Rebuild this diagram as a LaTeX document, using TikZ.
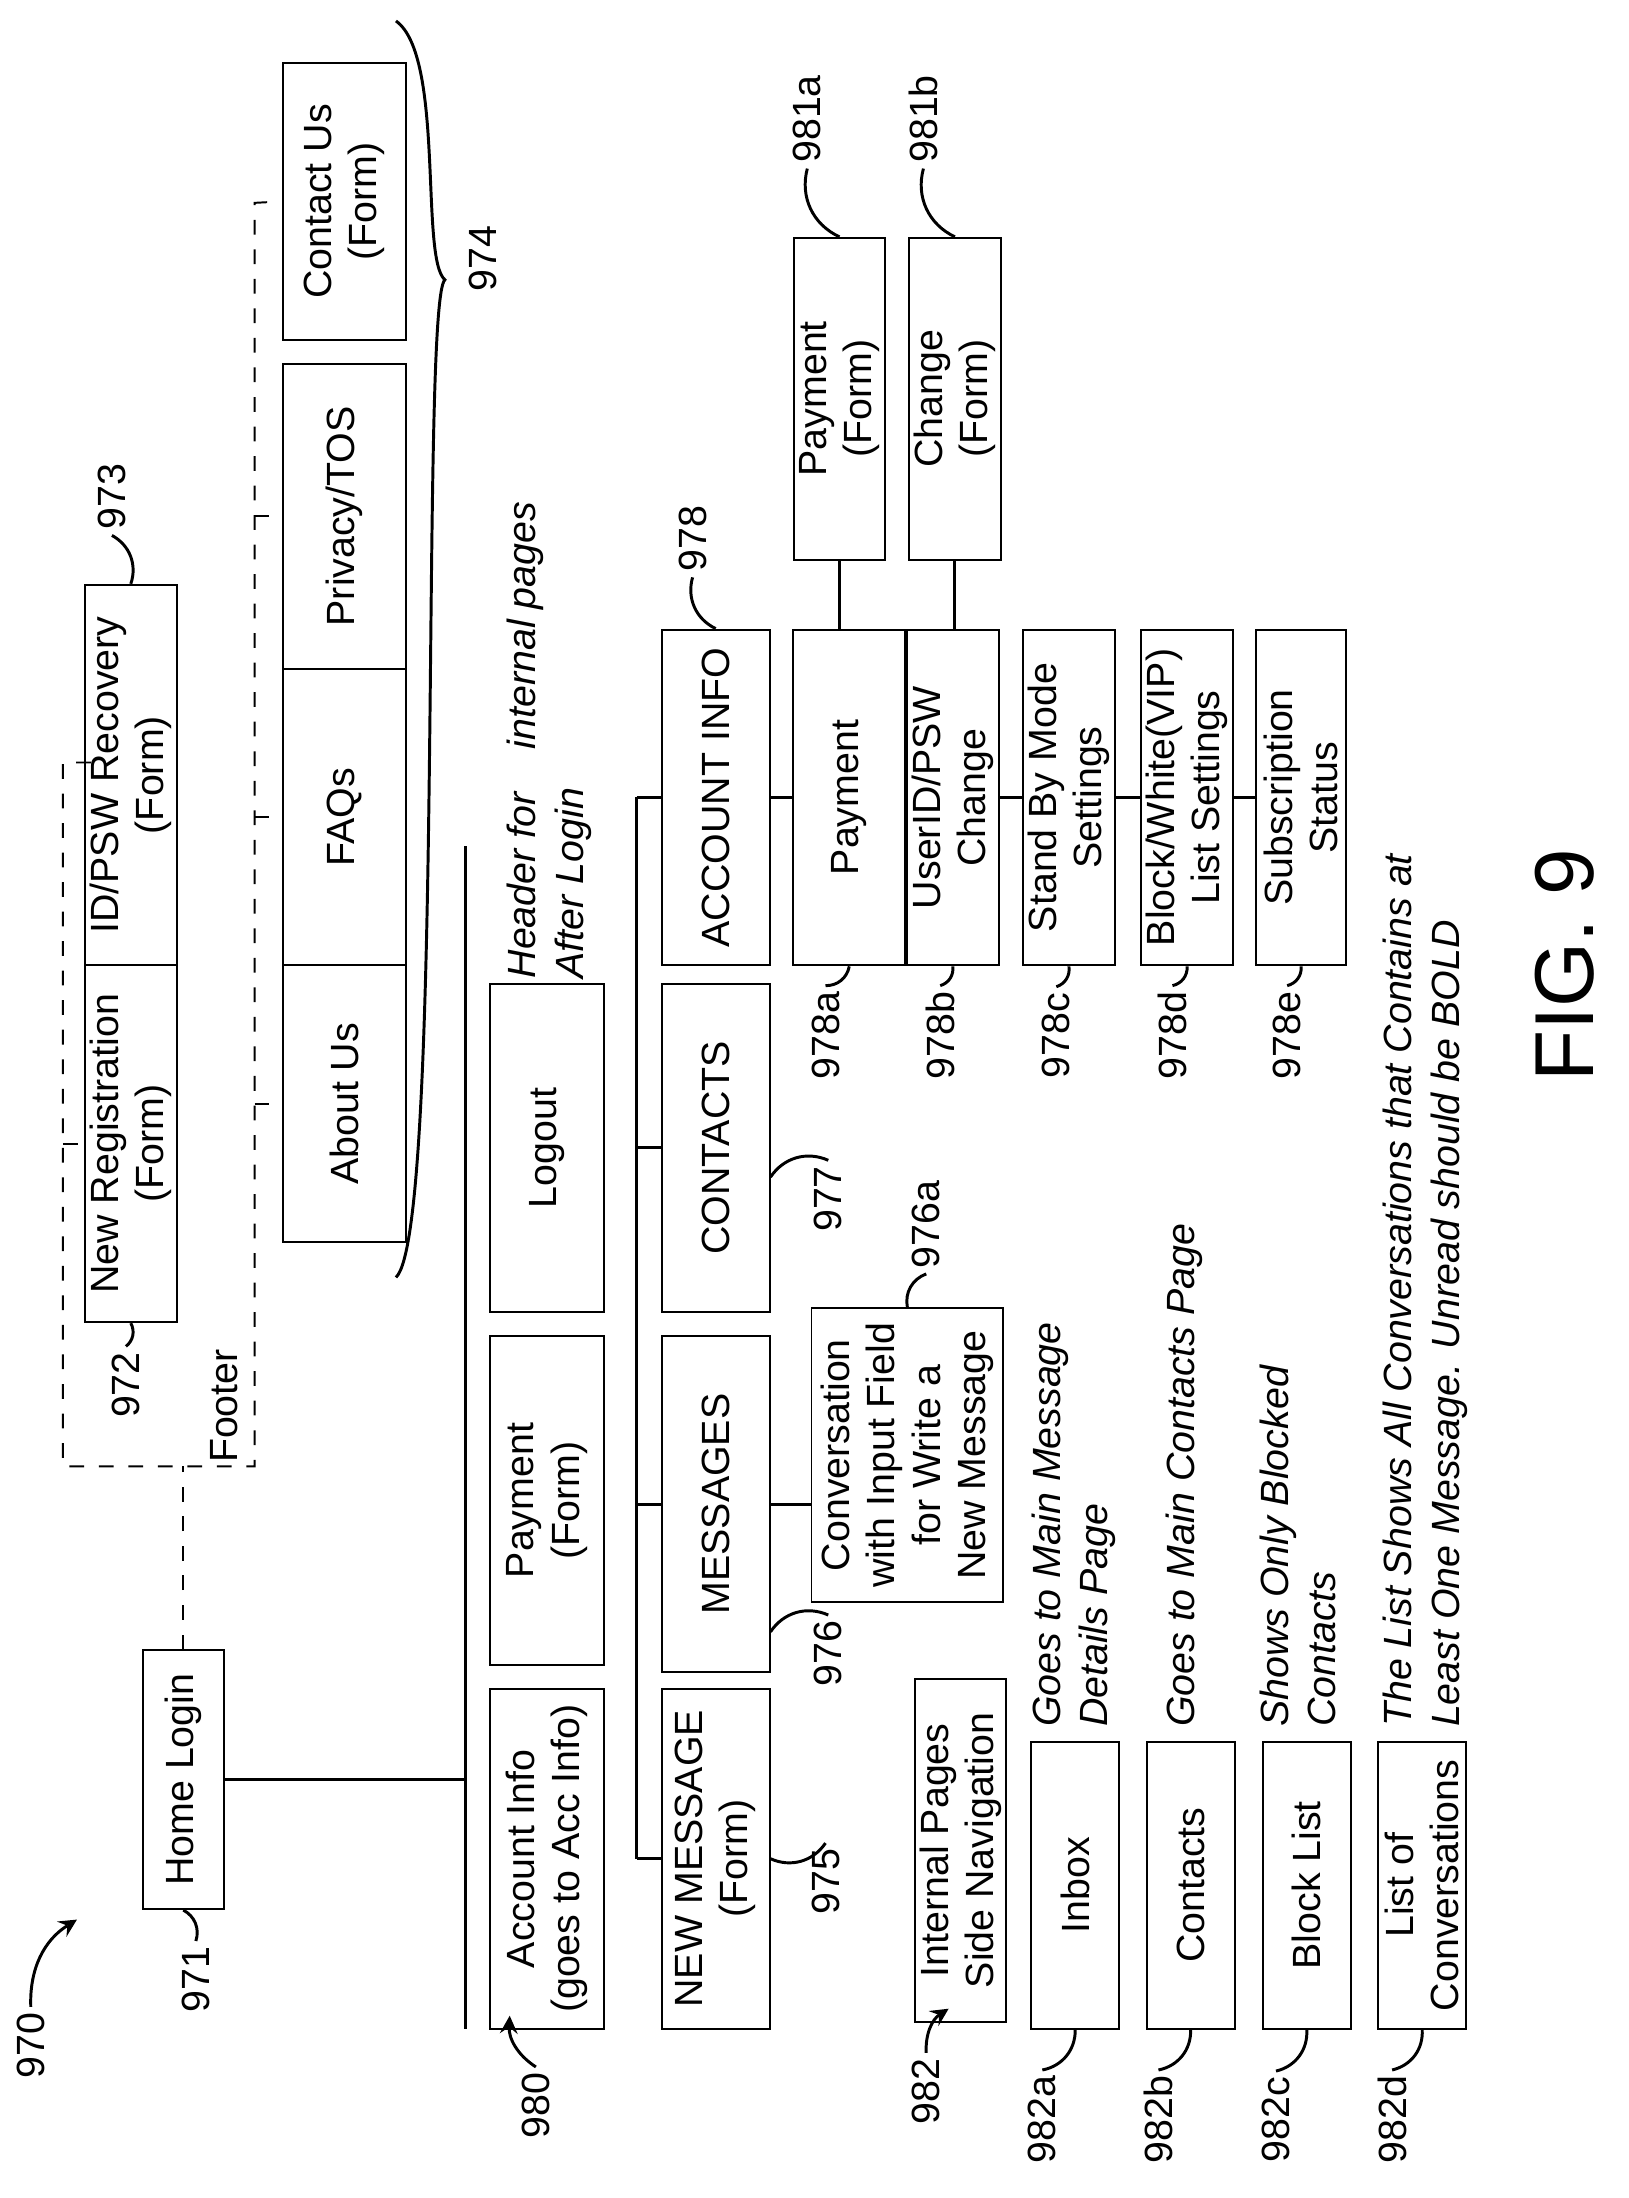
\documentclass[tikz,border=0pt]{standalone}
\usepackage{fontspec}
\setmainfont{Liberation Sans}
\usetikzlibrary{positioning}

\begin{document}
\begin{tikzpicture}[x=0.01cm, y=-0.01cm, >=stealth,
  every node/.style={font=\fontsize{8}{9.2}\selectfont},
  box/.style={draw, rotate=90, align=center, inner sep=1pt},
  sz/.style 2 args={minimum width=#1*0.01cm, minimum height=#2*0.01cm},
  lab/.style={rotate=90, inner sep=1pt},
  note/.style={rotate=90, align=left, anchor=north west, inner sep=0pt, font=\fontsize{8}{9.6}\selectfont\itshape},
  lead/.style={draw, semithick},
  thick line/.style={semithick}]

\useasboundingbox (0,0) rectangle (1164,1571);

% Home and footer pages
\node [box, sz={185}{58}] (home) at (131,1272) {Home Login};
\node [box, sz={255}{57}] (newreg) at (93.5,817.5) {New Registration\\(Form)};
\node [box, sz={272}{57}] (idrec) at (93.5,554) {ID/PSW Recovery\\(Form)};
\node [box, sz={198}{88}] (about) at (246,789) {About Us};
\node [box, sz={212}{88}] (faqs) at (246,584) {FAQs};
\node [box, sz={218}{88}] (privacy) at (246,369) {Privacy/TOS};
\node [box, sz={198}{88}] (contact) at (246,144) {Contact Us\\(Form)};
\node [lab] at (160,1005) {Footer};

% Footer outline
\coordinate (fl) at (45,545);
\coordinate (fr) at (182,145);
\draw [dashed] (65,545) -- (45,545) -- (45,1048) -- (182,1048) -- (182,145) -- (contact.north);
\foreach \n in {about, faqs, privacy}
  \draw [dashed] (\n.north -| fr) -- (\n.north);
\draw [dashed] (newreg.north -| fl) -- (newreg.north);
\draw [dashed] (home.east) -- (home.east |- 0,1048);

% Brace for footer pages
\draw [semithick] (283,15) .. controls (318,40) and (300,185) .. (318,200)
  .. controls (300,215) and (318,880) .. (283,913);
\node [lab] (l974) at (345,185) {974};

% Header after login
\coordinate (hb1) at (333,605);
\coordinate (hb2) at (333,1450);
\draw [thick line] (hb1) -- (hb2);
\draw [thick line] (home.south) -- (home.south -| hb1);
\node [box, sz={243}{82}] (accinfo) at (391,1328.5) {Account Info\\(goes to Acc Info)};
\node [box, sz={235}{82}] (payf) at (391,1072.5) {Payment\\(Form)};
\node [box, sz={235}{82}] (logout) at (391,820.5) {Logout};
\node [note] at (362,700) {Header for\hspace{1.1em}internal pages\\After Login};

% Internal pages
\coordinate (ib1) at (455,570);
\coordinate (ib2) at (455,1328.5);
\draw [thick line] (ib1) -- (ib2);
\node [box, sz={243}{77}] (newmsg) at (511.5,1328.5) {NEW MESSAGE\\(Form)};
\node [box, sz={240}{77}] (msgs) at (511.5,1075) {MESSAGES};
\node [box, sz={235}{77}] (contacts) at (511.5,820.5) {CONTACTS};
\node [box, sz={240}{77}] (acct) at (511.5,570) {ACCOUNT INFO};
\foreach \n in {newmsg, msgs, contacts, acct}
  \draw [thick line] (\n.north -| ib1) -- (\n.north);
\node [box, sz={210}{137}] (conv) at (648.5,1040)
  {Conversation\\with Input Field\\for Write a\\New Message};
\draw [thick line] (msgs.south) -- (msgs.south -| conv.north);

% Account info pages
\node [box, sz={240}{80}] (pay) at (607,570) {Payment};
\node [box, sz={240}{62}] (user) at (681,570) {UserID/PSW\\Change};
\node [box, sz={240}{62}] (stand) at (764,570) {Stand By Mode\\Settings};
\node [box, sz={240}{63}] (block) at (848.5,570) {Block/White(VIP)\\List Settings};
\node [box, sz={240}{64}] (subs) at (930,570) {Subscription\\Status};
\node [box, sz={230}{63}] (payform) at (600,285) {Payment\\(Form)};
\node [box, sz={230}{65}] (change) at (682.5,285) {Change\\(Form)};
\draw [thick line] (acct.south) -- (pay.north);
\draw [thick line] (pay.south) -- (user.north);
\draw [thick line] (user.south) -- (stand.north);
\draw [thick line] (stand.south) -- (block.north);
\draw [thick line] (block.south) -- (subs.north);
\draw [thick line] (payform.west) -- (payform.west |- pay.east);
\draw [thick line] (change.west) -- (change.west |- user.east);

% Side navigation
\node [box, sz={245}{63}] (side) at (686.5,1322.5) {Internal Pages\\Side Navigation};
\node [box, sz={205}{63}] (inbox) at (768.5,1347.5) {Inbox};
\node [box, sz={205}{63}] (contacts2) at (851,1347.5) {Contacts};
\node [box, sz={205}{63}] (blocklist) at (934,1347.5) {Block List};
\node [box, sz={205}{63}] (list) at (1016.5,1347.5) {List of\\Conversations};
\node [note] at (737,1235) {Goes to Main Message\\Details Page};
\node [note] at (833,1235) {Goes to Main Contacts Page};
\node [note] at (900,1235) {Shows Only Blocked\\Contacts};
\node [note] at (988,1235) {The List Shows All Conversations that Contains at\\Least One Message. Unread should be BOLD};

% Reference numerals
\node [lab] (l970) at (22,1462) {970};
\draw [->, semithick] (l970.east) to[bend left=30] (55,1372);
\node [lab] (l971) at (140,1415) {971};
\draw [lead] (l971.east) to[bend right=40] (home.west);
\node [lab] (l972) at (90,990) {972};
\draw [lead] (l972.east) to[bend right=40] (newreg.west);
\node [lab] (l973) at (80,355) {973};
\draw [lead] (l973.west) to[bend left=40] (idrec.east);
\node [lab] (l975) at (590,1345) {975};
\draw [lead] (l975.east) to[bend left=40] (newmsg.south);
\node [lab] (l976) at (592,1182) {976};
\draw [lead] ([yshift=-0.12cm]msgs.south |- l976.east) to[bend left=40] (l976.east);
\node [lab] (l976a) at (662,875) {976a};
\draw [lead] (l976a.west) to[bend right=40] (conv.east);
\node [lab] (l977) at (592,857) {977};
\draw [lead] ([yshift=-0.12cm]contacts.south |- l977.east) to[bend left=40] (l977.east);
\node [lab] (l978) at (495,385) {978};
\draw [lead] (l978.west) to[bend right=40] (acct.east);
\node [lab] (l981a) at (577,85) {981a};
\draw [lead] (l981a.west) to[bend right=40] (payform.east);
\node [lab] (l981b) at (660,85) {981b};
\draw [lead] (l981b.west) to[bend right=40] (change.east);
\foreach \n/\s/\x in {pay/a/590, user/b/672, stand/c/755, block/d/838, subs/e/920} {
  \node [lab] (l978\s) at (\x,740) {978\s};
  \draw [lead] (l978\s.east) to[bend right=40] (\n.west);
}
\node [lab] (l980) at (383,1505) {980};
\draw [->, semithick] (l980.east) to[bend left=30] ([shift={(0.15cm,0.1cm)}]accinfo.north west);
\node [lab] (l982) at (662,1495) {982};
\draw [->, semithick] (l982.east) to[bend left=30] ([shift={(0.25cm,0.1cm)}]side.north west);
\foreach \n/\s/\x in {inbox/a/745, contacts2/b/828, blocklist/c/912, list/d/995} {
  \node [lab] (l982\s) at (\x,1515) {982\s};
  \draw [lead] (l982\s.east) to[bend right=40] (\n.west);
}

\node [rotate=90, font=\fontsize{17}{20}\selectfont] (fig) at (1118,690) {FIG. 9};

\end{tikzpicture}
\end{document}
